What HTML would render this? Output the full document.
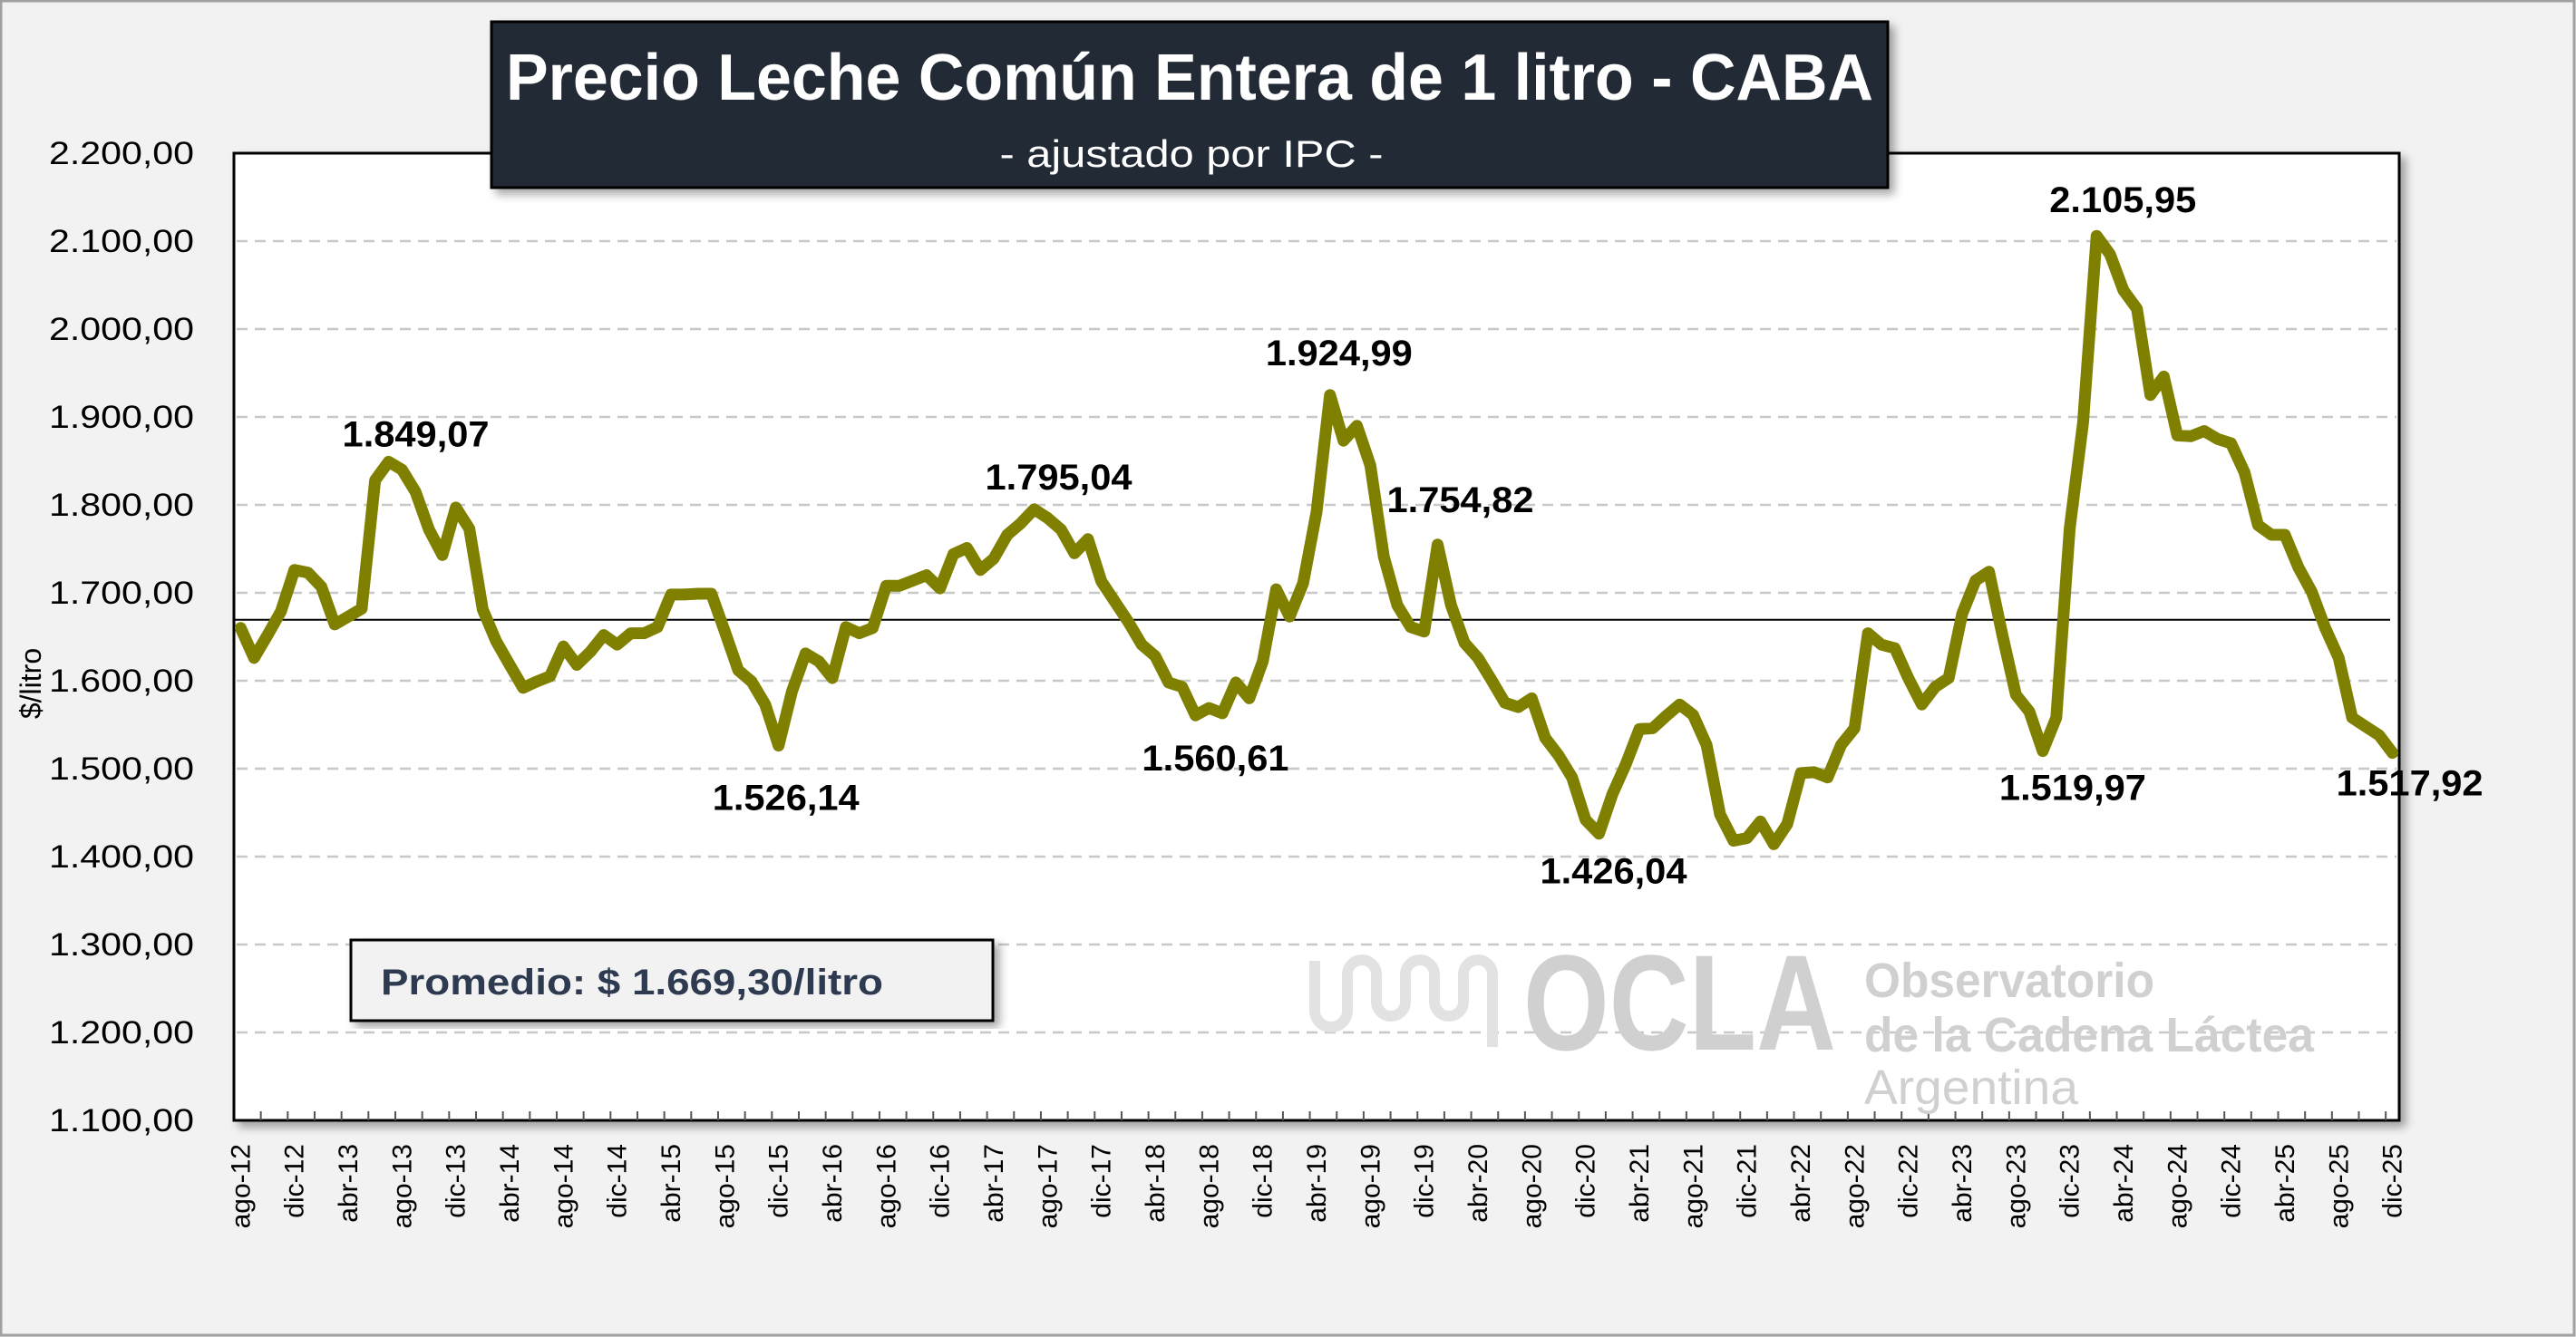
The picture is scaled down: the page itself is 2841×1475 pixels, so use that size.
<!DOCTYPE html>
<html><head><meta charset="utf-8"><style>
html,body{margin:0;padding:0;background:#f2f2f2;}
svg{display:block;}
</style></head><body>
<svg id="chart" width="2841" height="1475" viewBox="0 0 2841 1475" xmlns="http://www.w3.org/2000/svg">
<defs>
<filter id="sh" x="-5%" y="-5%" width="110%" height="115%"><feDropShadow dx="6" dy="6" stdDeviation="5" flood-color="#000" flood-opacity="0.35"/></filter>
</defs>
<rect x="1" y="1" width="2838" height="1472" fill="#f2f2f2" stroke="#a0a0a0" stroke-width="3"/>
<rect x="258" y="169" width="2388" height="1067" fill="#fff" stroke="#000" stroke-width="3" filter="url(#sh)"/>
<g id="grid"></g>
<g id="yticks"></g>
<g id="xticks"></g>
<g id="watermark" fill="#d0d0d0">
  <path d="M1450 1060 v55 a18 18 0 0 0 36 0 v-40 a16 16 0 0 1 32 0 v30 a16 16 0 0 0 32 0 v-30 a16 16 0 0 1 32 0 v30 a16 16 0 0 0 32 0 v-30 a16 16 0 0 1 32 0 v80" fill="none" stroke="#e2e2e2" stroke-width="12"/>
  <text x="1680" y="1158" font-family="Liberation Sans, sans-serif" font-weight="bold" font-size="150" textLength="345" lengthAdjust="spacingAndGlyphs">OCLA</text>
  <text x="2056" y="1100" font-family="Liberation Sans, sans-serif" font-weight="bold" font-size="54" textLength="320" lengthAdjust="spacingAndGlyphs">Observatorio</text>
  <text x="2056" y="1160" font-family="Liberation Sans, sans-serif" font-weight="bold" font-size="54" textLength="496" lengthAdjust="spacingAndGlyphs">de la Cadena Láctea</text>
  <text x="2056" y="1218" font-family="Liberation Sans, sans-serif" font-size="54" textLength="236" lengthAdjust="spacingAndGlyphs">Argentina</text>
</g>
<g id="series"></g>
<g id="labels"></g>
<rect x="542" y="24" width="1540" height="183" fill="#222a36" stroke="#000" stroke-width="3" filter="url(#sh)"/>
<text x="1312" y="110" text-anchor="middle" fill="#fff" font-family="Liberation Sans, sans-serif" font-weight="bold" font-size="72" textLength="1508" lengthAdjust="spacingAndGlyphs">Precio Leche Común Entera de 1 litro - CABA</text>
<text x="1314" y="184" text-anchor="middle" fill="#fff" font-family="Liberation Sans, sans-serif" font-size="42" textLength="423" lengthAdjust="spacingAndGlyphs">- ajustado por IPC -</text>
<rect x="387" y="1037" width="708" height="89" fill="#f2f2f2" stroke="#000" stroke-width="3" filter="url(#sh)"/>
<text x="420" y="1097" fill="#2e3a50" font-family="Liberation Sans, sans-serif" font-weight="bold" font-size="40" textLength="554" lengthAdjust="spacingAndGlyphs">Promedio: $ 1.669,30/litro</text>
<text transform="translate(45,754) rotate(-90)" text-anchor="middle" font-family="Liberation Sans, sans-serif" font-size="32" fill="#000">$/litro</text>
</svg>
<script>
const months = ["ene","feb","mar","abr","may","jun","jul","ago","sep","oct","nov","dic"];
const values = [1660,1626,1652,1679,1726,1723,1707,1664,1673,1682,1828,1849.07,1840,1815,1772,1743,1797,1773,1681,1645,1618,1592,1599,1605,1639,1618,1633,1652,1641,1654,1654,1661,1698,1698,1699,1699,1656,1612,1599,1573,1526.14,1588,1631,1622,1603,1661,1654,1660,1708,1708,1714,1720,1705,1744,1751,1726,1739,1766,1779,1795.04,1785,1772,1745,1761,1713,1690,1667,1641,1628,1598,1593,1560.61,1569,1563,1598,1580,1622,1704,1673,1711,1792,1924.99,1873,1890,1845,1741,1686,1661,1656,1754.82,1686,1643,1626,1601,1575,1570,1580,1535,1515,1490,1442,1426.04,1471,1505,1545,1546,1560,1573,1561,1527,1448,1418,1421,1440,1414,1437,1495,1496,1490,1527,1546,1654,1641,1637,1603,1573,1593,1603,1676,1714,1724,1652,1584,1565,1519.97,1558,1773,1894,2105.95,2085,2044,2023,1925,1946,1879,1878,1884,1875,1870,1837,1777,1766,1766,1729,1701,1660,1626,1558,1548,1538,1517.92];
const average = 1669.30;
const yTicks = [1100,1200,1300,1400,1500,1600,1700,1800,1900,2000,2100,2200];
const labelIdx = [11,40,59,71,81,89,101,138,134,160];
const labelText = ["1.849,07","1.526,14","1.795,04","1.560,61","1.924,99","1.754,82","1.426,04","2.105,95","1.519,97","1.517,92"];
const labelDx = [30,8,27,22,10,25,16,29,33,19];
const labelDy = [-31,57,-36,47,-47,-50,41,-40,40,33];

const NS="http://www.w3.org/2000/svg";
const L=258,R=2646,T=169,B=1236,YMIN=1100,YMAX=2200;
const n=values.length, cw=(R-L)/n;
const xs=i=>L+cw*(i+0.5);
const ys=v=>T+(YMAX-v)*(B-T)/(YMAX-YMIN);
function mk(tag,attrs,parent){const e=document.createElementNS(NS,tag);for(const k in attrs)e.setAttribute(k,attrs[k]);parent.appendChild(e);return e;}
const fmt=v=>{const s=v.toFixed(2).split('.');return s[0].replace(/\B(?=(\d{3})+(?!\d))/g,'.')+','+s[1];};

const grid=document.getElementById('grid'), yt=document.getElementById('yticks'), xt=document.getElementById('xticks');
yTicks.forEach(v=>{
  if(v>YMIN && v<YMAX){
    const g=mk('line',{x1:L+3,x2:R-3,y1:ys(v),y2:ys(v),stroke:'#c8c8c8','stroke-width':2.5,'stroke-dasharray':'12 8'},grid);
    
    
  }
  const t=mk('text',{x:214,y:ys(v)+12,'text-anchor':'end','font-family':'Liberation Sans, sans-serif','font-size':35,textLength:160,lengthAdjust:'spacingAndGlyphs',fill:'#000'},yt);
  t.textContent=fmt(v);
  
  
});
for(let i=2;i<n;i+=2){
  const x=L+cw*i;
  const tk=mk('line',{x1:x,x2:x,y1:B,y2:B-10,stroke:'#555','stroke-width':2},xt);
  
  
}
for(let i=0;i<n;i+=4){
  const m=(7+i)%12, yr=12+Math.floor((7+i)/12);
  const x=xs(i)+10, y=1262;
  const t=mk('text',{transform:`translate(${x},${y}) rotate(-90)`,'text-anchor':'end','font-family':'Liberation Sans, sans-serif','font-size':30,fill:'#000'},xt);
  t.textContent=months[m]+'-'+yr;
  
  
}
const ser=document.getElementById('series');
const avg=mk('line',{x1:L,x2:R-10,y1:ys(average),y2:ys(average),stroke:'#000','stroke-width':2},ser);


const pts=values.map((v,i)=>xs(i).toFixed(1)+','+ys(v).toFixed(1)).join(' ');
const pl=mk('polyline',{points:pts,fill:'none',stroke:'#808000','stroke-width':13,'stroke-linejoin':'round','stroke-linecap':'round'},ser);


const lab=document.getElementById('labels');
labelIdx.forEach((idx,k)=>{
  const t=mk('text',{x:xs(idx)+labelDx[k],y:ys(values[idx])+labelDy[k]+14,'text-anchor':'middle','font-family':'Liberation Sans, sans-serif','font-weight':'bold','font-size':40,textLength:162,lengthAdjust:'spacingAndGlyphs',fill:'#000'},lab);
  t.textContent=labelText[k];
  
  
});
</script>
</body></html>
